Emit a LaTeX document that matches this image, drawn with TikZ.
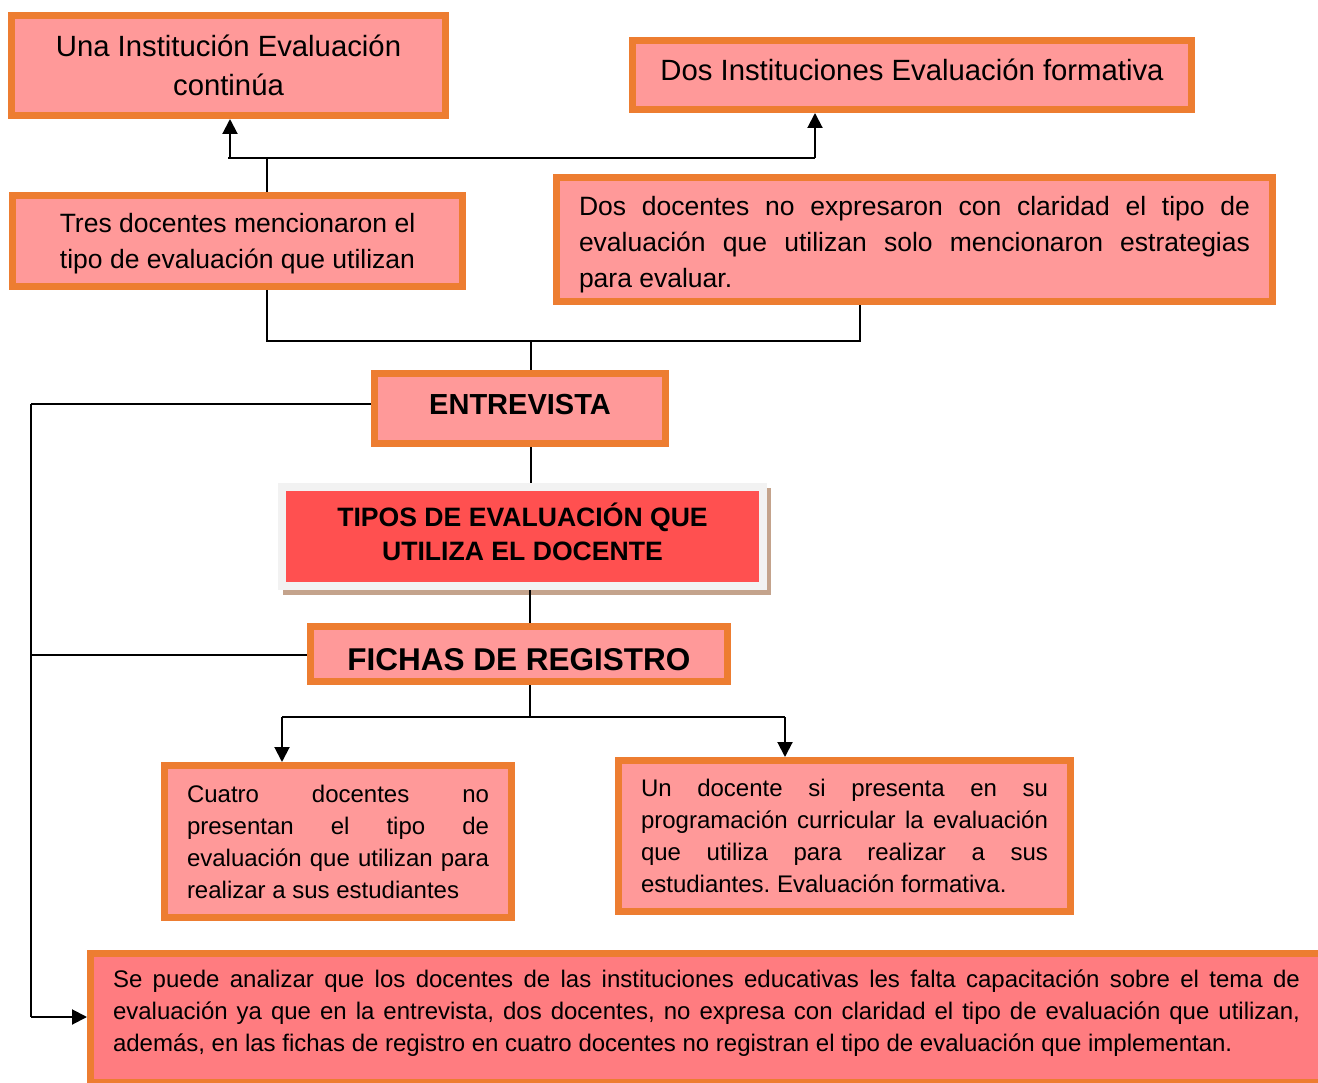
\documentclass[tikz,border=0pt]{standalone}
\usepackage{fontspec}
\setmainfont{Liberation Sans}
\usetikzlibrary{arrows.meta,calc}
\definecolor{boxfill}{HTML}{FF9999}
\definecolor{boxline}{HTML}{ED7D31}
\definecolor{endfill}{HTML}{FF7C80}
\definecolor{redfill}{HTML}{FF5050}
\definecolor{framec}{HTML}{F2F2F2}
\definecolor{shadec}{HTML}{C4A38C}
\newcommand\jline[2]{\makebox[#1][s]{#2}}
\newcommand\shifted[2]{\raisebox{#1}[\height][\depth]{#2}}
\frenchspacing
\begin{document}
\begin{tikzpicture}[x=1pt,y=-1pt,
  box/.style={draw=boxline,fill=boxfill,line width=7pt,inner sep=0pt,text=black},
  conn/.style={line width=2pt,black},
  arr/.style={conn,-{Triangle[length=15pt,width=15pt]}},
  bigtxt/.style={font=\fontsize{29.3}{39}\selectfont},
  midtxt/.style={font=\fontsize{26.5}{36}\selectfont},
  smalltxt/.style={font=\fontsize{24}{32}\selectfont}]
\useasboundingbox (0,0) rectangle (1318,1083);
\clip (0,0) rectangle (1318,1083);

% boxes
\node[box,bigtxt,align=center,minimum width=434pt,minimum height=100pt] (A) at (228.5,65.5)
  {Una Institución Evaluación\\continúa};
\node[box,bigtxt,minimum width=559pt,minimum height=69pt] (B) at (912,75)
  {\shifted{5pt}{Dos Instituciones Evaluación formativa}};
\node[box,midtxt,minimum width=450pt,minimum height=91pt] (C) at (237.5,241)
  {\shifted{-2pt}{\begin{tabular}{@{}c@{}}Tres docentes mencionaron el\\tipo de evaluación que utilizan\end{tabular}}};
\node[box,midtxt,minimum width=716pt,minimum height=124pt] (D) at (914.5,239.5)
  {\shifted{-5pt}{\parbox{671pt}{%
   \jline{671pt}{Dos docentes no expresaron con claridad el tipo de}\\
   \jline{671pt}{evaluación que utilizan solo mencionaron estrategias}\\
   para evaluar.}}};
\node[box,font=\fontsize{29}{34}\bfseries,minimum width=291pt,minimum height=70pt] (E) at (520,408.5)
  {\shifted{4pt}{ENTREVISTA}};
\fill[shadec] (283,488) rectangle (771,595);
\node[draw=framec,fill=redfill,line width=8pt,inner sep=0pt,
  font=\fontsize{26.6}{34}\bfseries,minimum width=481pt,minimum height=99pt] (F) at (522.5,536.5)
  {\begin{tabular}{@{}c@{}}TIPOS DE EVALUACIÓN QUE\\UTILIZA EL DOCENTE\end{tabular}};
\node[box,font=\fontsize{31.5}{36}\bfseries,minimum width=417pt,minimum height=55pt] (G) at (519,654)
  {\shifted{-6pt}{FICHAS DE REGISTRO}};
\node[box,smalltxt,minimum width=347pt,minimum height=152pt] (H) at (338,841.5)
  {\parbox{302pt}{%
   \jline{302pt}{Cuatro docentes no}\\
   \jline{302pt}{presentan el tipo de}\\
   \jline{302pt}{evaluación que utilizan para}\\
   realizar a sus estudiantes}};
\node[box,smalltxt,minimum width=452pt,minimum height=151pt] (I) at (844.5,836)
  {\parbox{407pt}{%
   \jline{407pt}{Un docente si presenta en su}\\
   \jline{407pt}{programación curricular la evaluación}\\
   \jline{407pt}{que utiliza para realizar a sus}\\
   estudiantes. Evaluación formativa.}};
\node[box,fill=endfill,minimum width=1240pt,minimum height=129pt] (J) at (710.5,1018) {};
\node[smalltxt,inner sep=0pt] (Jt) at (706.5,1013)
  {\parbox{1187pt}{%
   \jline{1187pt}{Se puede analizar que los docentes de las instituciones educativas les falta capacitación sobre el tema de}\\
   \jline{1187pt}{evaluación ya que en la entrevista, dos docentes, no expresa con claridad el tipo de evaluación que utilizan,}\\
   además, en las fichas de registro en cuatro docentes no registran el tipo de evaluación que implementan.}};

% coordinates
\coordinate (c267) at (267,0);
\coordinate (tl) at (228,158);
\coordinate (a1) at (230,158);
\coordinate (tr) at (815,158);
\coordinate (m1) at (267,341);
\coordinate (m2) at (860,341);
\coordinate (m3) at (531,341);
\coordinate (x530) at (530,0);
\coordinate (b1) at (530,717);
\coordinate (bl) at (282,717);
\coordinate (br) at (785,717);
\coordinate (l1) at (31,404);
\coordinate (l2) at (31,655);
\coordinate (l3) at (31,1017);

% connectors
\draw[conn] (C.north -| c267) -- (c267 |- tl);
\draw[conn] (tl) -- (tr);
\draw[arr] (a1) -- (a1 |- A.south);
\draw[arr] (tr) -- (tr |- B.south);
\draw[conn] (C.south -| m1) -- (m1) -- (m2) -- (m2 |- D.south);
\draw[conn] (m3) -- (m3 |- E.north);
\draw[conn] (E.south -| m3) -- (m3 |- F.north);
\draw[conn] (F.south -| x530) -- (G.north -| x530);
\draw[conn] (G.south -| b1) -- (b1);
\draw[conn] (bl) -- (br);
\draw[arr] (bl) -- (bl |- H.north);
\draw[arr] (br) -- (br |- I.north);
\draw[conn] (l1) -- (l1 -| E.west);
\draw[conn] (l2) -- (l2 -| G.west);
\draw[conn] (l1) -- (l3);
\draw[arr] (l3) -- (l3 -| J.west);
\end{tikzpicture}
\end{document}
